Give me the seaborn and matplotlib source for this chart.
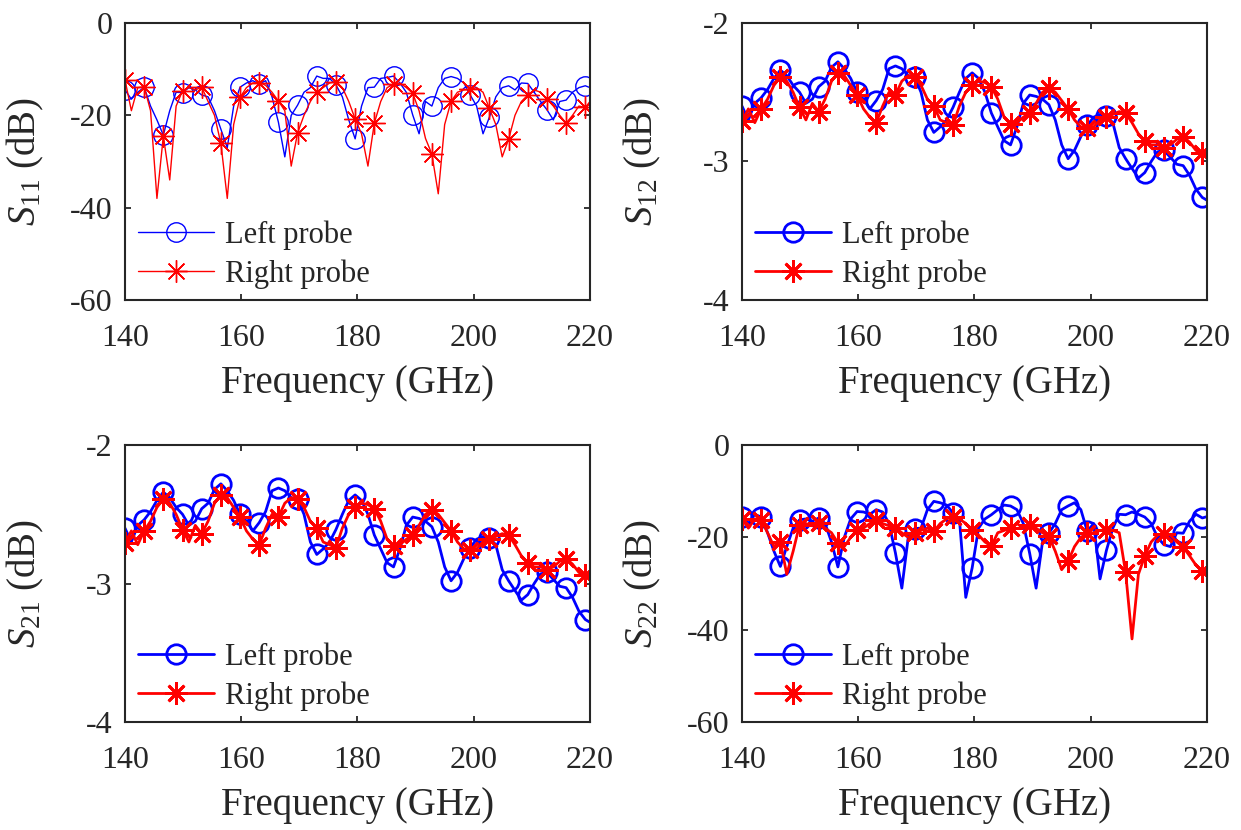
import numpy as np
import matplotlib
matplotlib.use("Agg")
import matplotlib.pyplot as plt
import seaborn as sns

# Frequency grid (GHz): 1.1 GHz step plus the band edge
freq = np.append(np.round(140 + 1.1 * np.arange(73), 2), 220.0)

s11_left = [-14.5, -16.5, -15.0, -13.9, -18.0, -21.0, -24.3, -19.0, -15.0, -15.1,
            -14.0, -14.5, -15.6, -16.0, -19.0, -23.0, -27.0, -18.0, -13.9, -13.0,
            -12.5, -13.2, -12.5, -16.0, -21.5, -29.0, -20.0, -17.8, -15.0, -14.0,
            -11.5, -12.0, -12.0, -13.4, -16.0, -21.0, -25.1, -18.0, -14.0, -13.9,
            -12.0, -11.8, -11.5, -13.0, -15.0, -19.9, -24.0, -17.0, -18.0, -14.0,
            -12.0, -11.6, -12.0, -13.0, -15.6, -18.0, -24.0, -20.4, -16.0, -14.0,
            -13.6, -14.5, -13.0, -13.1, -15.0, -17.0, -18.8, -21.0, -17.0, -16.7,
            -15.0, -14.0, -13.6, -14.0]
s11_right = [-12.3, -19.0, -14.0, -13.8, -19.0, -38.0, -24.5, -34.0, -18.0, -14.7,
             -14.0, -14.5, -13.9, -17.0, -20.0, -26.1, -38.0, -22.0, -16.1, -14.0,
             -13.0, -12.9, -13.5, -15.0, -16.9, -19.0, -31.0, -23.8, -20.0, -17.0,
             -14.9, -14.0, -13.0, -12.7, -14.0, -17.0, -20.8, -24.0, -31.0, -21.7,
             -17.0, -14.0, -13.3, -13.0, -14.0, -15.2, -19.0, -25.0, -28.4, -37.0,
             -22.0, -17.0, -15.0, -14.5, -14.4, -14.0, -15.0, -18.5, -22.0, -29.0,
             -25.2, -20.0, -17.0, -15.6, -14.5, -15.0, -16.5, -18.0, -20.0, -21.7,
             -20.0, -18.0, -18.3, -17.0]

s12_left = [-2.60, -2.70, -2.58, -2.54, -2.48, -2.40, -2.34, -2.38, -2.45, -2.50,
            -2.58, -2.55, -2.46, -2.42, -2.32, -2.28, -2.33, -2.40, -2.50, -2.55,
            -2.62, -2.56, -2.48, -2.33, -2.31, -2.33, -2.38, -2.39, -2.50, -2.70,
            -2.79, -2.75, -2.70, -2.61, -2.50, -2.40, -2.36, -2.40, -2.50, -2.65,
            -2.75, -2.85, -2.88, -2.75, -2.58, -2.52, -2.53, -2.55, -2.59, -2.70,
            -2.88, -2.98, -2.92, -2.82, -2.74, -2.68, -2.66, -2.67, -2.72, -2.90,
            -2.98, -3.05, -3.12, -3.08, -3.00, -2.93, -2.92, -2.97, -3.02, -3.03,
            -3.10, -3.20, -3.26, -3.28]
s12_right = [-2.71, -2.62, -2.72, -2.62, -2.55, -2.45, -2.39, -2.42, -2.50, -2.61,
             -2.70, -2.58, -2.64, -2.55, -2.42, -2.36, -2.38, -2.45, -2.52, -2.62,
             -2.68, -2.72, -2.60, -2.50, -2.52, -2.42, -2.38, -2.39, -2.45, -2.55,
             -2.60, -2.70, -2.72, -2.74, -2.60, -2.50, -2.45, -2.42, -2.43, -2.46,
             -2.55, -2.68, -2.73, -2.72, -2.68, -2.65, -2.58, -2.50, -2.47, -2.50,
             -2.56, -2.62, -2.70, -2.75, -2.76, -2.75, -2.70, -2.68, -2.66, -2.64,
             -2.65, -2.72, -2.80, -2.85, -2.88, -2.88, -2.90, -2.88, -2.84, -2.82,
             -2.86, -2.92, -2.94, -2.95]

# Reciprocal network: S21 measured identical to S12
s21_left = list(s12_left)
s21_right = list(s12_right)

s22_left = [-15.6, -17.0, -15.0, -15.6, -19.0, -23.0, -26.3, -22.0, -18.0, -16.2,
            -16.0, -16.5, -15.8, -17.0, -21.0, -26.4, -20.0, -16.0, -14.4, -14.5,
            -15.0, -14.0, -14.5, -17.0, -23.4, -31.0, -20.0, -18.1, -18.0, -14.0,
            -12.2, -12.5, -13.0, -14.7, -16.0, -33.0, -26.6, -18.0, -16.0, -15.1,
            -14.0, -13.0, -13.2, -14.0, -17.0, -23.5, -31.0, -21.0, -19.1, -17.0,
            -14.0, -13.2, -12.5, -14.0, -18.7, -17.0, -29.0, -22.8, -18.0, -15.0,
            -15.1, -14.5, -15.0, -15.6, -17.0, -20.0, -21.6, -22.0, -19.0, -19.1,
            -16.5, -15.0, -15.8, -15.5]
s22_right = [-16.0, -18.0, -16.0, -16.2, -19.0, -22.0, -20.9, -28.0, -23.0, -17.3,
             -17.0, -17.5, -16.9, -18.0, -19.0, -21.2, -22.0, -20.0, -18.3, -18.0,
             -17.0, -16.2, -17.0, -17.5, -18.0, -19.0, -20.0, -19.1, -18.5, -18.0,
             -18.7, -17.0, -16.0, -15.6, -16.0, -17.0, -18.3, -19.5, -21.0, -21.9,
             -19.0, -18.5, -18.0, -17.0, -18.0, -17.3, -18.0, -19.0, -19.8, -23.0,
             -27.0, -25.2, -22.0, -20.0, -19.1, -19.0, -18.5, -18.3, -18.5, -19.0,
             -27.6, -42.0, -28.0, -24.0, -21.0, -19.5, -19.2, -19.5, -21.0, -22.1,
             -24.0, -26.0, -27.3, -27.5]

x_ticks = [140, 160, 180, 200, 220]
legend_labels = ["Left probe", "Right probe"]

panels = [
    ("11", s11_left, s11_right, (-60, 0), [-60, -40, -20, 0], 1.0, [0.1007, 0.6386, 0.3747, 0.3337]),
    ("12", s12_left, s12_right, (-4, -2), [-4, -3, -2], 2.0, [0.5979, 0.6386, 0.3747, 0.3337]),
    ("21", s21_left, s21_right, (-4, -2), [-4, -3, -2], 2.0, [0.1007, 0.1301, 0.3747, 0.3337]),
    ("22", s22_left, s22_right, (-60, 0), [-60, -40, -20, 0], 2.0, [0.5979, 0.1301, 0.3747, 0.3337]),
]

sns.set_style("ticks")
plt.rcParams.update({
    "font.family": ["Liberation Serif", "DejaVu Serif"],
    "mathtext.fontset": "custom",
    "mathtext.rm": "Liberation Serif",
    "mathtext.it": "Liberation Serif:italic",
    "axes.unicode_minus": False,
})

fig = plt.figure(figsize=(12.41, 8.30), dpi=100)
mk_idx = list(range(0, 73, 3))
asterisk = (8, 2, 0)

for name, left, right, ylim, yticks, lw, pos in panels:
    ax = fig.add_axes(pos)
    sns.lineplot(x=freq, y=left, ax=ax, color="#0000ff", linewidth=lw,
                 marker="o", markersize=14, markerfacecolor="none",
                 markeredgecolor="#0000ff", markeredgewidth=lw,
                 markevery=mk_idx, label=legend_labels[0], sort=False, errorbar=None)
    sns.lineplot(x=freq, y=right, ax=ax, color="#ff0000", linewidth=lw,
                 marker=asterisk, markersize=16, markerfacecolor="#ff0000",
                 markeredgecolor="#ff0000", markeredgewidth=lw,
                 markevery=mk_idx, label=legend_labels[1], sort=False, errorbar=None)
    ax.set_xlim(140, 220)
    ax.set_ylim(*ylim)
    ax.set_xticks(x_ticks)
    ax.set_yticks(yticks)
    ax.set_xticklabels([str(t) for t in x_ticks])
    ax.set_yticklabels([str(t) for t in yticks])
    ax.tick_params(direction="in", length=4, width=1.3, top=True, right=True,
                   labelsize=23, color="#262626", labelcolor="#262626")
    ax.tick_params(axis="x", pad=17)
    ax.tick_params(axis="y", pad=9)
    for sp in ax.spines.values():
        sp.set_linewidth(1.5)
        sp.set_color("#262626")
        sp.set_visible(True)
    ax.set_xlabel("Frequency (GHz)", fontsize=28, color="#262626")
    ax.set_ylabel(r"$S_{" + name + r"}$ (dB)", fontsize=28, color="#262626")
    ax.xaxis.set_label_coords(0.5, -0.236)
    ax.yaxis.set_label_coords(-0.17, 0.5)
    ax.legend(loc="lower left", bbox_to_anchor=(0.028, 0.04), frameon=False,
              fontsize=22, handlelength=2.5, handletextpad=0.35,
              labelspacing=0.31, borderpad=0, borderaxespad=0)

fig.savefig("out.png", dpi=100, facecolor="white")
